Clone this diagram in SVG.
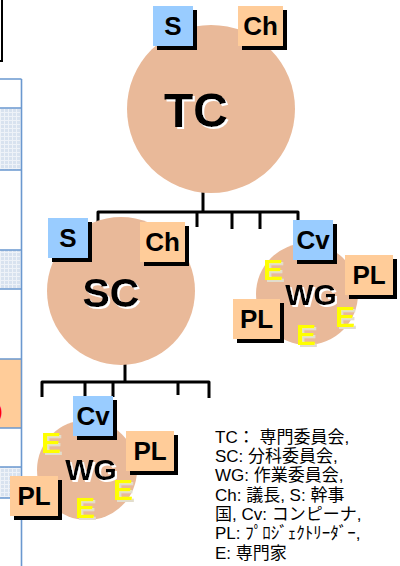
<svg xmlns="http://www.w3.org/2000/svg" width="400" height="566" viewBox="0 0 400 566">
  <defs>
    <style>
      .circle { fill: #e9b999; }
      .blue { fill: #99ccff; }
      .orange { fill: #ffcc99; }
      .shadow { fill: #000; }
      .lbl { font-family: "Liberation Sans", Arial, sans-serif; font-weight: bold; fill: #000; text-anchor: middle; }
      .big { filter: url(#whiteShadow); }
      .e { font-family: "Liberation Sans", Arial, sans-serif; font-weight: bold; font-size: 30px; fill: #ffff00; filter: url(#paleShadow); }
      .conn { fill: none; stroke: #000; stroke-width: 3; stroke-linejoin: round; }
      .legend { font-family: "Liberation Sans", "Noto Sans CJK JP", sans-serif; font-size: 17px; fill: #000; }
      .tbl { stroke: #6a98cf; stroke-width: 1.6; fill: none; }
    </style>
    <filter id="whiteShadow" x="-10%" y="-10%" width="130%" height="130%">
      <feDropShadow dx="2" dy="2" stdDeviation="0" flood-color="#ffffff" flood-opacity="1"/>
    </filter>
    <filter id="paleShadow" x="-10%" y="-10%" width="130%" height="130%">
      <feDropShadow dx="2" dy="2" stdDeviation="0" flood-color="#e2ddcc" flood-opacity="1"/>
    </filter>
    <pattern id="grid" width="4" height="4" patternUnits="userSpaceOnUse">
      <rect width="4" height="4" fill="#d8e2ef"/>
      <path d="M0 0.5H4M0.5 0V4" stroke="#eef2f8" stroke-width="1"/>
    </pattern>
  </defs>

  <rect width="400" height="566" fill="#fff"/>

  <!-- frame corner at top left -->
  <path d="M0 61H2V0" fill="none" stroke="#000" stroke-width="2"/>

  <!-- side table -->
  <g id="side-table">
    <rect x="0" y="108" width="21.5" height="62" fill="url(#grid)"/>
    <rect x="0" y="250" width="21.5" height="39" fill="url(#grid)"/>
    <rect x="0" y="359" width="21.5" height="69" fill="#ffcc99"/>
    <rect x="0" y="467" width="21.5" height="31" fill="url(#grid)"/>
    <text x="-4" y="418" font-family="Liberation Sans, sans-serif" font-size="20" fill="#ff0000">)</text>
    <path class="tbl" d="M0 79H21.5M0 108H21.5M0 170H21.5M0 250H21.5M0 289H21.5M0 359H21.5M0 428H21.5M0 467H21.5M0 498H21.5M21.5 79V566"/>
  </g>

  <!-- connectors -->
  <g id="connectors">
    <path class="conn" d="M203 192V212"/>
    <path class="conn" d="M98 230V212H298V221"/>
    <path class="conn" d="M197 212V227M232 212V229M260 212V229"/>
    <path class="conn" d="M125 364V382"/>
    <path class="conn" d="M42 397V382H209V398"/>
    <path class="conn" d="M85 382V397M113 382V397M178 382V395"/>
  </g>

  <!-- TC -->
  <g id="tc">
    <circle class="circle" cx="211" cy="109" r="84"/>
    <text class="lbl big" x="196" y="127" font-size="48">TC</text>
    <rect class="shadow" x="157" y="10" width="40" height="40"/>
    <rect class="blue" x="153" y="6" width="40" height="40"/>
    <text class="lbl" x="173" y="35" font-size="26">S</text>
    <rect class="shadow" x="242" y="10" width="45" height="40"/>
    <rect class="orange" x="238" y="6" width="45" height="40"/>
    <text class="lbl" x="260.5" y="35" font-size="26">Ch</text>
  </g>

  <!-- SC -->
  <g id="sc">
    <circle class="circle" cx="121" cy="291" r="74"/>
    <text class="lbl big" x="111" y="307" font-size="41">SC</text>
    <rect class="shadow" x="52" y="222" width="40" height="40"/>
    <rect class="blue" x="48" y="218" width="40" height="40"/>
    <text class="lbl" x="68" y="247" font-size="26">S</text>
    <rect class="shadow" x="144" y="226" width="45" height="40"/>
    <rect class="orange" x="140" y="222" width="45" height="40"/>
    <text class="lbl" x="162.5" y="251" font-size="26">Ch</text>
  </g>

  <!-- WG under TC -->
  <g id="wg-tc">
    <circle class="circle" cx="307" cy="294" r="51"/>
    <text class="lbl big" x="311" y="305" font-size="30">WG</text>
    <rect class="shadow" x="297" y="224" width="40" height="40"/>
    <rect class="blue" x="293" y="220" width="40" height="40"/>
    <text class="lbl" x="313" y="249" font-size="26">Cv</text>
    <rect class="shadow" x="349" y="259" width="48" height="40"/>
    <rect class="orange" x="345" y="255" width="48" height="40"/>
    <text class="lbl" x="369" y="284" font-size="26">PL</text>
    <rect class="shadow" x="237" y="303" width="47" height="40"/>
    <rect class="orange" x="233" y="299" width="47" height="40"/>
    <text class="lbl" x="256.5" y="328" font-size="26">PL</text>
    <text class="e" x="263" y="280">E</text>
    <text class="e" x="335" y="327">E</text>
    <text class="e" x="296" y="345">E</text>
  </g>

  <!-- WG under SC -->
  <g id="wg-sc">
    <circle class="circle" cx="87" cy="470" r="50"/>
    <text class="lbl big" x="91" y="480" font-size="30">WG</text>
    <rect class="shadow" x="77" y="400" width="40" height="40"/>
    <rect class="blue" x="73" y="396" width="40" height="40"/>
    <text class="lbl" x="93" y="425" font-size="26">Cv</text>
    <rect class="shadow" x="130" y="435" width="48" height="40"/>
    <rect class="orange" x="126" y="431" width="48" height="40"/>
    <text class="lbl" x="150" y="460" font-size="26">PL</text>
    <rect class="shadow" x="14" y="480" width="48" height="40"/>
    <rect class="orange" x="10" y="476" width="48" height="40"/>
    <text class="lbl" x="34" y="505" font-size="26">PL</text>
    <text class="e" x="41" y="453">E</text>
    <text class="e" x="113" y="500">E</text>
    <text class="e" x="75" y="518">E</text>
  </g>

  <!-- legend -->
  <g id="legend" class="legend">
    <text x="215" y="443">TC： 専門委員会,</text>
    <text x="215" y="462">SC: 分科委員会,</text>
    <text x="215" y="481">WG: 作業委員会,</text>
    <text x="215" y="501">Ch: 議長, S: 幹事</text>
    <text x="215" y="520">国, Cv: コンピーナ,</text>
    <text x="215" y="539">PL: ﾌﾟﾛｼﾞｪｸﾄﾘｰﾀﾞｰ,</text>
    <text x="215" y="559">E: 専門家</text>
  </g>
</svg>
